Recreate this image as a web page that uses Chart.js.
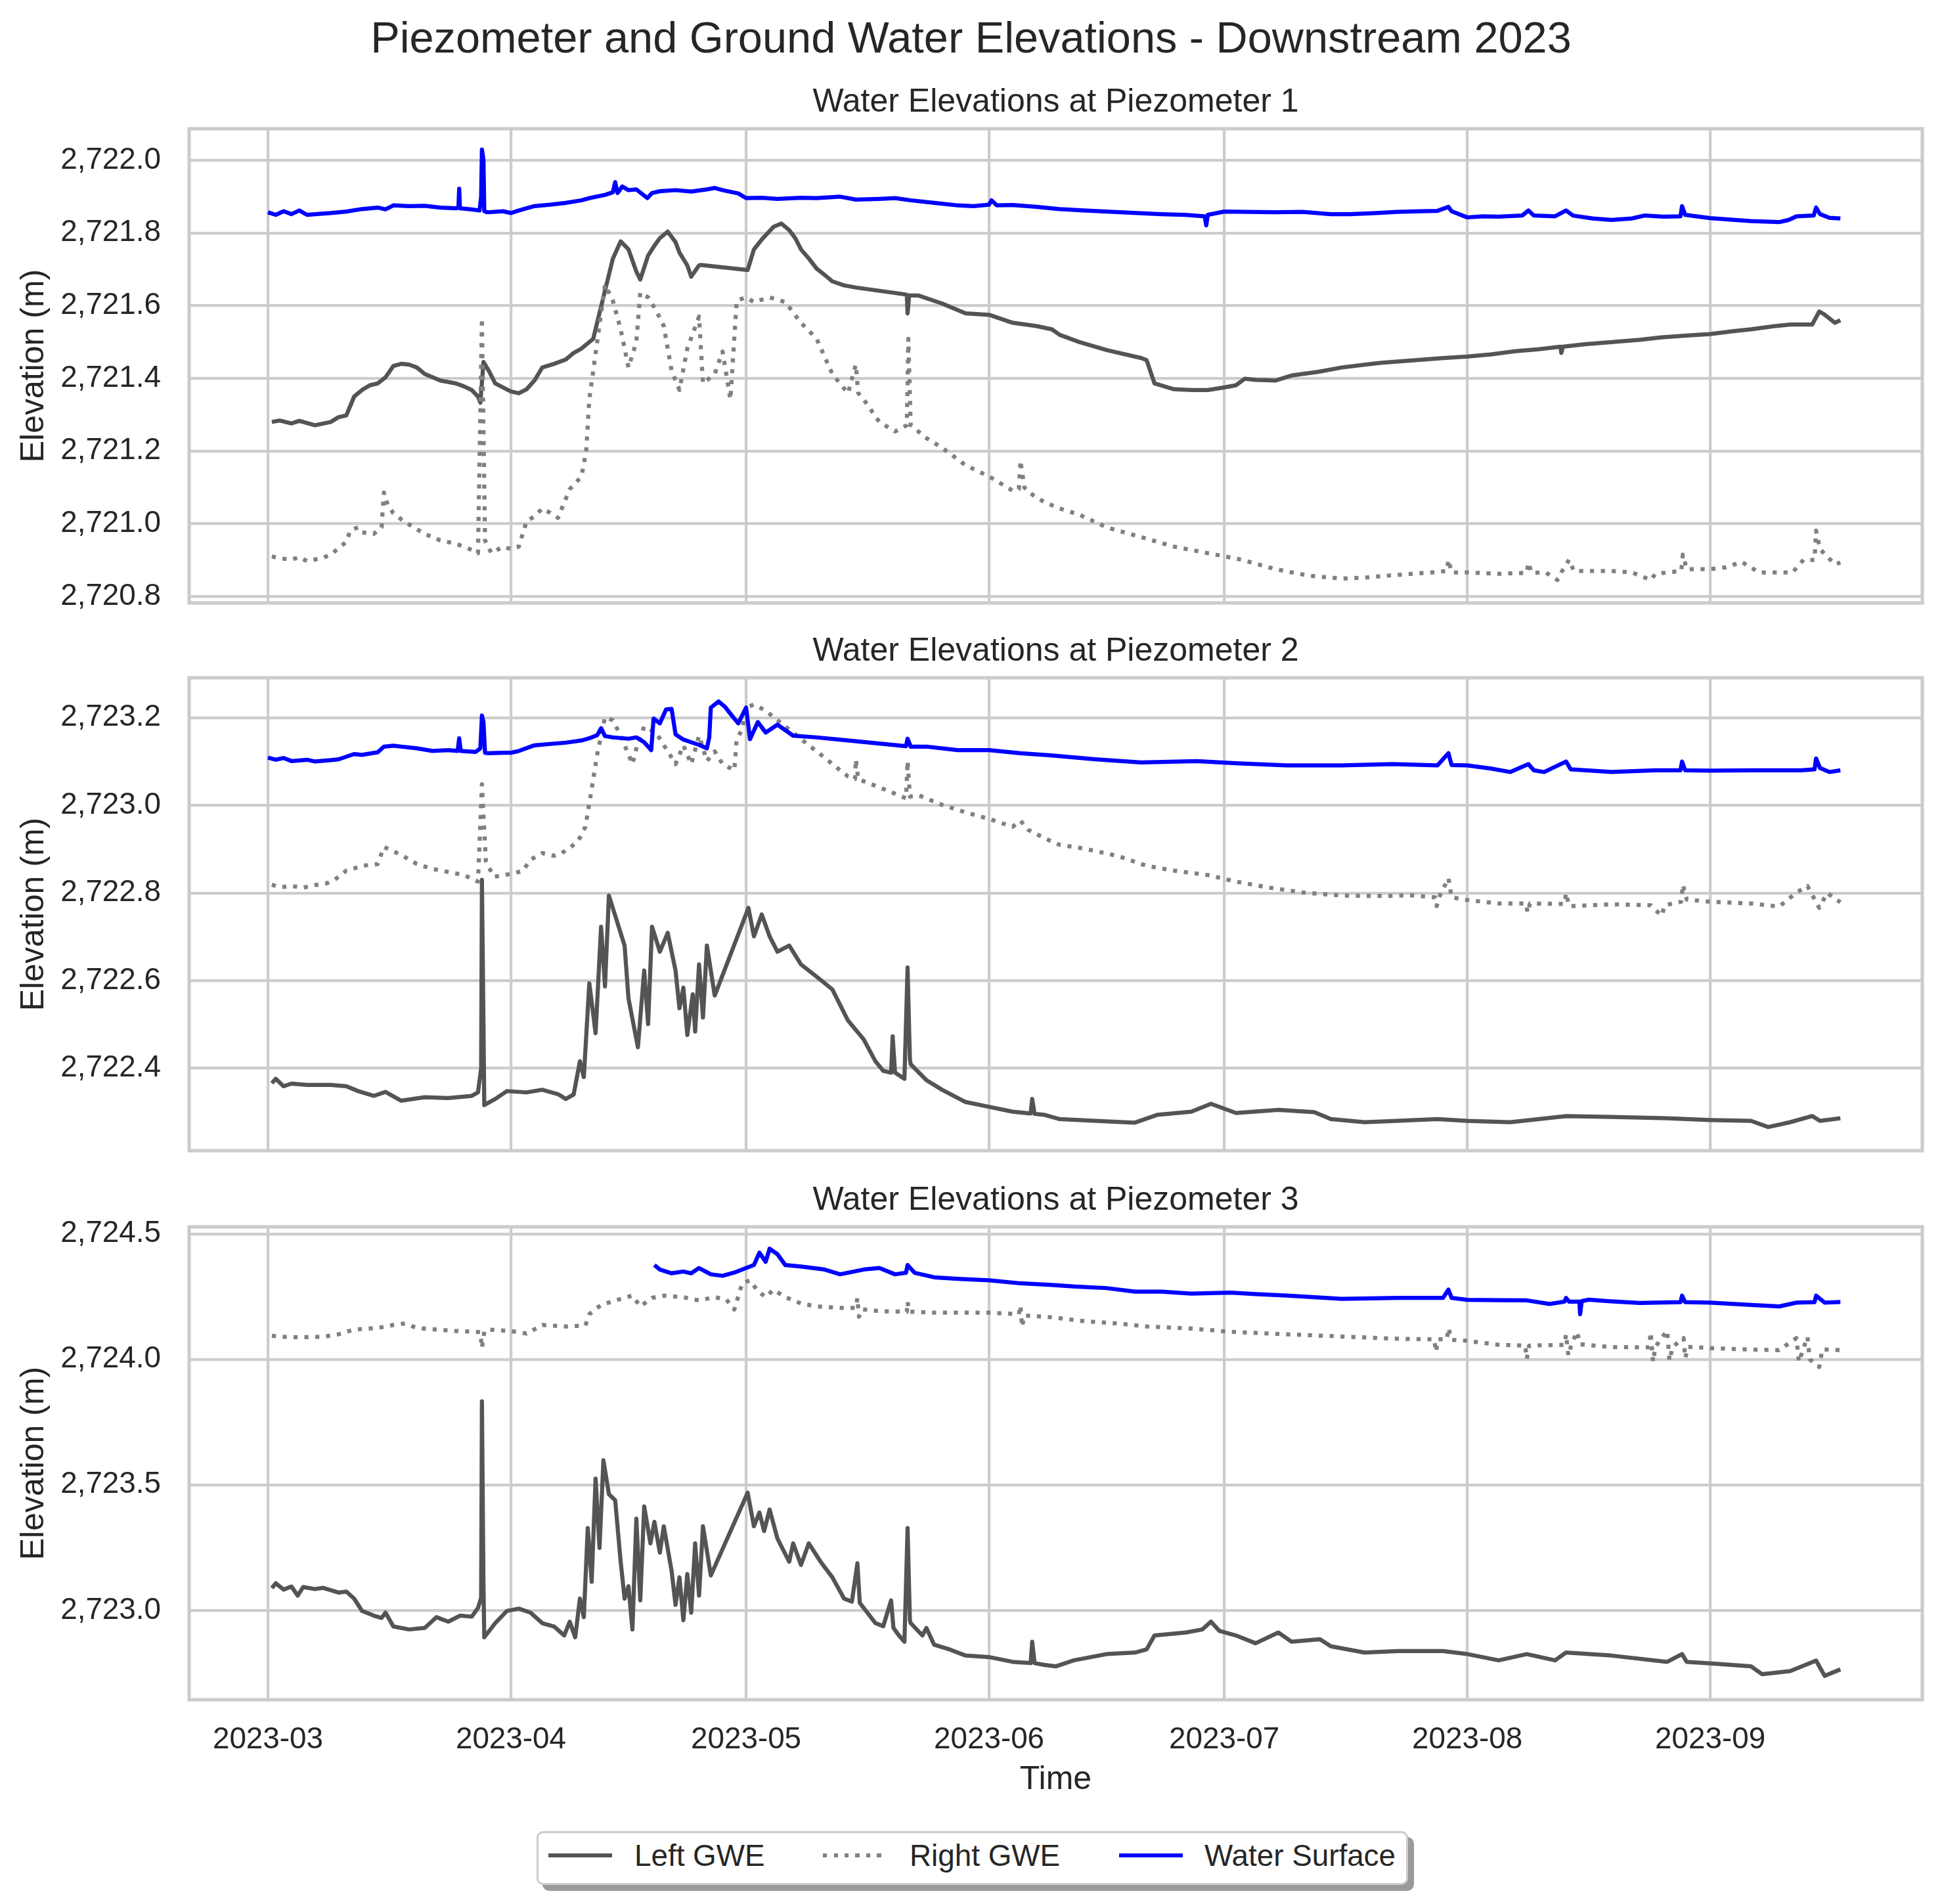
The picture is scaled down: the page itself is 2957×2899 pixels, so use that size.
<!DOCTYPE html>
<html>
<head>
<meta charset="utf-8">
<title>Piezometer and Ground Water Elevations - Downstream 2023</title>
<script src="https://cdn.jsdelivr.net/npm/chart.js@4.4.0/dist/chart.umd.min.js"></script>
<style>
    body {
        margin: 0;
        width: 2957px;
        height: 2899px;
        background: #ffffff;
        position: relative;
        font-family: "Liberation Sans", Arial, sans-serif;
        color: #262626;
        overflow: hidden;
    }
    canvas {
        position: absolute;
        left: 0;
    }
    #mainTitle {
        position: absolute;
        left: 0;
        top: 19px;
        width: 2957px;
        text-align: center;
        font-size: 66.7px;
        line-height: normal;
        white-space: nowrap;
    }
    #legendFrame {
        position: absolute;
        left: 817px;
        top: 2788px;
        width: 1321px;
        height: 76px;
        border: 3px solid #cccccc;
        border-radius: 10px;
        background: #ffffff;
        box-shadow: 9px 9px 0 #9a9a9a;
    }
    .legendLine {
        position: absolute;
        width: 97px;
        height: 6.25px;
        top: 2822px;
    }
    .legendText {
        position: absolute;
        top: 2800px;
        font-size: 45.8px;
        line-height: normal;
        white-space: nowrap;
    }
</style>
</head>
<body>
<div id="mainTitle">Piezometer and Ground Water Elevations - Downstream 2023</div>

<canvas id="chart1" width="2957" height="832" style="top:126px"></canvas>
<canvas id="chart2" width="2957" height="830" style="top:962px"></canvas>
<canvas id="chart3" width="2957" height="942" style="top:1798px"></canvas>

<div id="legendFrame"></div>
<div class="legendLine" style="left:835px; background:#545454"></div>
<div class="legendText" style="left:966px">Left GWE</div>
<div class="legendLine" style="left:1253px; background:repeating-linear-gradient(to right, #808080 0 6.25px, transparent 6.25px 16.5px)"></div>
<div class="legendText" style="left:1385px">Right GWE</div>
<div class="legendLine" style="left:1704px; background:#0000ff"></div>
<div class="legendText" style="left:1834px">Water Surface</div>

<script>
// days counted from 2023-03-01
const monthTicks = [0, 31, 61, 92, 122, 153, 184];
const monthLabels = ["2023-03", "2023-04", "2023-05", "2023-06", "2023-07", "2023-08", "2023-09"];

const yTicks1 = [2720.8, 2721.0, 2721.2, 2721.4, 2721.6, 2721.8, 2722.0];
const yTicks2 = [2722.4, 2722.6, 2722.8, 2723.0, 2723.2];
const yTicks3 = [2723.0, 2723.5, 2724.0, 2724.5];

// ---- Piezometer 1 ----
const p1Left = [
    [0.5, 2721.28], [1.5, 2721.284], [3, 2721.276], [4, 2721.283], [6, 2721.271], [8, 2721.28], [9, 2721.293],
    [10, 2721.298], [11, 2721.35], [12, 2721.368], [13, 2721.381], [14, 2721.386], [15, 2721.403], [16, 2721.434],
    [17, 2721.44], [18, 2721.438], [19, 2721.43], [20, 2721.412], [22, 2721.394], [24, 2721.386], [25, 2721.378],
    [26, 2721.368], [26.8, 2721.35], [27.1, 2721.333], [27.5, 2721.445], [28.2, 2721.42], [29, 2721.386],
    [30, 2721.375], [31, 2721.364], [32, 2721.359], [33, 2721.37], [34, 2721.394], [35, 2721.43], [36.5, 2721.44],
    [38, 2721.452], [39, 2721.47], [40, 2721.482], [41.5, 2721.509], [42.3, 2721.58], [43, 2721.641], [44, 2721.729],
    [45, 2721.777], [46, 2721.755], [47, 2721.694], [47.5, 2721.672], [48.5, 2721.738], [49.3, 2721.765],
    [50, 2721.786], [51, 2721.804], [52, 2721.775], [52.5, 2721.746], [53.5, 2721.711], [54, 2721.68], [55, 2721.711],
    [55.2, 2721.712], [61.2, 2721.698], [62, 2721.755], [63, 2721.782], [64.5, 2721.817], [65.5, 2721.826],
    [66.5, 2721.808], [67.3, 2721.785], [68, 2721.755], [69, 2721.73], [70, 2721.702], [71, 2721.685], [72, 2721.667],
    [73.5, 2721.656], [75, 2721.65], [78, 2721.641], [81, 2721.632], [81.5, 2721.63], [81.6, 2721.579], [81.8, 2721.628],
    [83, 2721.628], [86, 2721.606], [89, 2721.579], [92, 2721.575], [95, 2721.553], [98, 2721.544], [100, 2721.535],
    [101, 2721.52], [103.5, 2721.5], [107, 2721.478], [111.4, 2721.456], [112.1, 2721.45], [113.1, 2721.386],
    [115.6, 2721.37], [118, 2721.368], [119.9, 2721.368], [122, 2721.375], [123.5, 2721.381], [124.6, 2721.399],
    [126, 2721.396], [128.5, 2721.394], [130.6, 2721.408], [134, 2721.418], [137, 2721.43], [140, 2721.438],
    [142, 2721.443], [146.4, 2721.45], [150, 2721.456], [153, 2721.46], [156, 2721.466], [159.2, 2721.475],
    [162, 2721.48], [164.9, 2721.487], [165, 2721.47], [165.2, 2721.487], [168, 2721.494], [171.4, 2721.5],
    [175, 2721.506], [177.8, 2721.513], [181, 2721.518], [184, 2721.522], [187, 2721.53], [189.2, 2721.535],
    [192, 2721.543], [194.2, 2721.548], [197, 2721.548], [197.9, 2721.584], [198.4, 2721.578], [198.9, 2721.57],
    [199.9, 2721.553], [200.6, 2721.56]
];
const p1Right = [
    [0.5, 2720.91], [1.5, 2720.905], [3, 2720.901], [4, 2720.908], [5, 2720.897], [7, 2720.906], [8, 2720.915],
    [9, 2720.932], [10, 2720.95], [10.5, 2720.981], [11.5, 2720.99], [12, 2720.976], [13.5, 2720.972], [14.5, 2720.99],
    [14.8, 2721.086], [15.3, 2721.05], [16, 2721.029], [17, 2721.012], [18, 2720.998], [20, 2720.972], [22, 2720.954],
    [24, 2720.945], [26, 2720.928], [26.8, 2720.919], [27.3, 2721.566], [27.7, 2720.954], [28.5, 2720.919],
    [30, 2720.937], [31, 2720.93], [32, 2720.937], [33, 2721.007], [34, 2721.02], [35, 2721.042], [36, 2721.03],
    [37, 2721.016], [38.5, 2721.095], [40, 2721.13], [40.6, 2721.2], [41, 2721.342], [42, 2721.5], [43, 2721.658],
    [44, 2721.614], [45, 2721.535], [46, 2721.43], [47, 2721.5], [47.5, 2721.636], [48.5, 2721.623], [49.5, 2721.588],
    [50.5, 2721.544], [51.5, 2721.421], [52.5, 2721.368], [53.5, 2721.482], [55, 2721.57], [55.5, 2721.386],
    [57, 2721.412], [58, 2721.474], [59, 2721.342], [59.8, 2721.614], [61, 2721.623], [62, 2721.61], [64, 2721.623],
    [66, 2721.61], [68, 2721.553], [70, 2721.509], [72, 2721.412], [74, 2721.359], [75, 2721.438], [75.3, 2721.36],
    [76, 2721.342], [78, 2721.28], [80, 2721.254], [81.5, 2721.271], [81.7, 2721.509], [82, 2721.271], [84, 2721.236],
    [86, 2721.209], [89, 2721.161], [92, 2721.13], [95, 2721.091], [95.8, 2721.095], [96, 2721.174], [96.5, 2721.1],
    [97, 2721.087], [99, 2721.06], [101, 2721.042], [103.5, 2721.025], [107, 2720.99], [111.4, 2720.963],
    [115.6, 2720.937], [119.9, 2720.919], [124.2, 2720.901], [128.5, 2720.875], [132.8, 2720.857], [137, 2720.849],
    [140, 2720.852], [142.8, 2720.857], [146, 2720.862], [148.5, 2720.866], [150.4, 2720.87], [150.6, 2720.901],
    [151, 2720.866], [153, 2720.866], [157, 2720.862], [160.6, 2720.865], [160.8, 2720.893], [161.2, 2720.865],
    [163, 2720.866], [164.5, 2720.845], [165, 2720.866], [166, 2720.901], [166.6, 2720.87], [171.4, 2720.87],
    [174, 2720.866], [176.4, 2720.845], [177, 2720.862], [180.3, 2720.87], [180.5, 2720.915], [181, 2720.875],
    [184, 2720.875], [186, 2720.88], [188, 2720.895], [190.2, 2720.866], [192, 2720.866], [194.5, 2720.866],
    [195.9, 2720.901], [197.3, 2720.9], [197.5, 2720.981], [198, 2720.93], [198.9, 2720.91], [199.9, 2720.888],
    [200.6, 2720.893]
];
const p1Water = [
    [0, 2721.857], [1, 2721.85], [2, 2721.86], [3, 2721.852], [4, 2721.862], [5, 2721.85], [6, 2721.852],
    [8, 2721.855], [10, 2721.859], [12, 2721.866], [14, 2721.87], [15, 2721.865], [16, 2721.876], [18, 2721.874],
    [20, 2721.875], [22, 2721.87], [24, 2721.868], [24.3, 2721.87], [24.4, 2721.922], [24.5, 2721.868],
    [26, 2721.865], [27, 2721.862], [27.2, 2721.9], [27.3, 2722.03], [27.5, 2722.0], [27.6, 2721.86], [28, 2721.857],
    [30, 2721.86], [31, 2721.855], [32, 2721.862], [34, 2721.874], [36, 2721.878], [38, 2721.883], [40, 2721.89],
    [41, 2721.896], [43, 2721.905], [44, 2721.912], [44.3, 2721.94], [44.6, 2721.91], [45.2, 2721.928],
    [46, 2721.918], [47, 2721.92], [48.4, 2721.896], [49, 2721.91], [50, 2721.915], [52, 2721.918], [54, 2721.914],
    [56, 2721.92], [57, 2721.924], [58, 2721.918], [60, 2721.909], [61, 2721.896], [63, 2721.897], [65, 2721.894],
    [68, 2721.897], [70, 2721.896], [73, 2721.9], [75, 2721.892], [78, 2721.894], [80, 2721.896], [82, 2721.89],
    [85, 2721.883], [88, 2721.876], [90, 2721.874], [92, 2721.878], [92.3, 2721.89], [93, 2721.876], [95, 2721.877],
    [98, 2721.872], [101, 2721.866], [104, 2721.862], [107, 2721.859], [110, 2721.856], [114, 2721.852],
    [117, 2721.85], [119.5, 2721.846], [119.7, 2721.821], [119.9, 2721.85], [122, 2721.859], [125, 2721.858],
    [128.5, 2721.857], [132, 2721.858], [135.6, 2721.852], [138, 2721.852], [141.4, 2721.855], [144, 2721.858],
    [147, 2721.86], [149.2, 2721.861], [150.6, 2721.872], [151, 2721.86], [153, 2721.843], [155, 2721.846],
    [157, 2721.845], [160, 2721.848], [160.8, 2721.862], [161.5, 2721.848], [164.2, 2721.846], [165.6, 2721.862],
    [166.5, 2721.848], [169, 2721.84], [171.4, 2721.836], [174, 2721.84], [175.6, 2721.848], [178, 2721.845],
    [180.2, 2721.846], [180.4, 2721.874], [180.8, 2721.85], [184, 2721.841], [186, 2721.838], [189.2, 2721.833],
    [192.8, 2721.83], [194, 2721.836], [195, 2721.846], [197.2, 2721.848], [197.5, 2721.87], [198, 2721.852],
    [199.2, 2721.842], [200.6, 2721.84]
];

// ---- Piezometer 2 ----
const p2Left = [
    [0.5, 2722.366], [1, 2722.376], [2, 2722.359], [3, 2722.365], [5, 2722.362], [8, 2722.362], [10, 2722.359],
    [11.5, 2722.348], [13.5, 2722.337], [15, 2722.346], [17, 2722.326], [20, 2722.334], [23, 2722.332],
    [26, 2722.337], [26.8, 2722.345], [27.2, 2722.4], [27.3, 2722.83], [27.5, 2722.5], [27.6, 2722.316],
    [29, 2722.33], [30.5, 2722.348], [33, 2722.345], [35, 2722.351], [37, 2722.341], [38, 2722.33], [39, 2722.34],
    [39.8, 2722.416], [40.3, 2722.38], [41, 2722.594], [41.8, 2722.48], [42.5, 2722.723], [43, 2722.587],
    [43.5, 2722.794], [44.5, 2722.737], [45.5, 2722.68], [46, 2722.559], [47.2, 2722.448], [48, 2722.623],
    [48.5, 2722.501], [49, 2722.723], [50, 2722.666], [51, 2722.709], [52, 2722.623], [52.5, 2722.537],
    [53, 2722.584], [53.5, 2722.476], [54.2, 2722.569], [54.5, 2722.484], [55, 2722.637], [55.5, 2722.516],
    [56, 2722.68], [57, 2722.566], [61.3, 2722.766], [62, 2722.701], [63, 2722.751], [64, 2722.701], [65, 2722.666],
    [66.5, 2722.68], [68, 2722.637], [70, 2722.609], [72, 2722.58], [74, 2722.509], [76, 2722.466], [77.5, 2722.416],
    [78.5, 2722.394], [79.5, 2722.39], [79.7, 2722.473], [80, 2722.39], [81.2, 2722.376], [81.6, 2722.63],
    [81.9, 2722.42], [82, 2722.409], [84, 2722.373], [86, 2722.351], [89, 2722.323], [92, 2722.312], [95, 2722.301],
    [97.3, 2722.297], [97.5, 2722.33], [97.8, 2722.296], [99, 2722.294], [101, 2722.284], [105.6, 2722.28],
    [110.6, 2722.276], [113.5, 2722.294], [117.8, 2722.301], [120.3, 2722.319], [123.5, 2722.298], [128.9, 2722.305],
    [133.5, 2722.3], [135.6, 2722.284], [139.9, 2722.277], [144, 2722.28], [149.2, 2722.284], [153, 2722.28],
    [158.5, 2722.277], [165.6, 2722.291], [171.4, 2722.289], [178.5, 2722.286], [184, 2722.282], [189.2, 2722.28],
    [191.4, 2722.266], [194.2, 2722.277], [197, 2722.291], [198, 2722.28], [200.6, 2722.286]
];
const p2Right = [
    [0.5, 2722.819], [1.5, 2722.813], [3, 2722.816], [4.5, 2722.812], [6, 2722.818], [7.5, 2722.822],
    [8.5, 2722.83], [10, 2722.851], [11, 2722.856], [12, 2722.862], [14, 2722.866], [14.8, 2722.905],
    [16, 2722.895], [17, 2722.887], [19, 2722.866], [21, 2722.855], [23, 2722.848], [25, 2722.841],
    [26.8, 2722.826], [27.3, 2723.048], [27.8, 2722.873], [28.8, 2722.837], [30, 2722.84], [31, 2722.844],
    [32.5, 2722.85], [33.5, 2722.876], [35, 2722.891], [36.5, 2722.885], [37.5, 2722.891], [39.5, 2722.916],
    [40.5, 2722.951], [41.3, 2723.037], [42, 2723.116], [43, 2723.201], [44, 2723.194], [45, 2723.159],
    [46.5, 2723.094], [47, 2723.13], [48, 2723.18], [49.5, 2723.166], [51.5, 2723.109], [52, 2723.094],
    [53, 2723.137], [54, 2723.094], [55, 2723.159], [56, 2723.101], [57, 2723.123], [58, 2723.094], [59.5, 2723.08],
    [59.8, 2723.151], [60.5, 2723.173], [61, 2723.223], [62, 2723.23], [63.5, 2723.216], [65, 2723.194],
    [67, 2723.166], [69, 2723.137], [71, 2723.109], [73, 2723.08], [74, 2723.066], [74.9, 2723.06], [75, 2723.105],
    [75.3, 2723.06], [76, 2723.055], [79, 2723.034], [81.4, 2723.016], [81.6, 2723.101], [81.9, 2723.02],
    [83, 2723.023], [86, 2723.001], [89, 2722.984], [92, 2722.969], [95, 2722.951], [96, 2722.965], [97, 2722.944],
    [99.9, 2722.918], [101, 2722.91], [104.2, 2722.901], [108.5, 2722.884], [112.1, 2722.862], [115.6, 2722.851],
    [119.9, 2722.841], [123.5, 2722.826], [127.8, 2722.812], [132.1, 2722.801], [137, 2722.794], [142.8, 2722.793],
    [145.6, 2722.795], [148.9, 2722.79], [149.1, 2722.77], [149.4, 2722.79], [150.6, 2722.834], [151, 2722.79],
    [153, 2722.784], [157, 2722.776], [160.5, 2722.776], [160.7, 2722.755], [161, 2722.776], [165.4, 2722.775],
    [165.6, 2722.8], [166, 2722.77], [171.4, 2722.774], [176.4, 2722.772], [177.8, 2722.748], [178.2, 2722.772],
    [180.3, 2722.78], [180.5, 2722.819], [181, 2722.785], [184, 2722.78], [189.2, 2722.776], [192.8, 2722.769],
    [195, 2722.801], [196.4, 2722.816], [197.9, 2722.766], [198.9, 2722.8], [200.6, 2722.779]
];
const p2Water = [
    [0, 2723.109], [1, 2723.104], [2, 2723.108], [3, 2723.101], [5, 2723.104], [6, 2723.1], [8, 2723.103],
    [9, 2723.105], [11, 2723.117], [12, 2723.115], [14, 2723.121], [14.8, 2723.134], [16, 2723.136], [17, 2723.134],
    [19, 2723.13], [21, 2723.124], [23, 2723.126], [24.2, 2723.124], [24.4, 2723.153], [24.6, 2723.124],
    [26.5, 2723.122], [27.1, 2723.13], [27.3, 2723.205], [27.5, 2723.19], [27.7, 2723.12], [28, 2723.119],
    [30, 2723.12], [31, 2723.12], [32, 2723.124], [34, 2723.137], [36, 2723.14], [38, 2723.143], [40, 2723.148],
    [41, 2723.153], [42, 2723.16], [42.5, 2723.176], [43, 2723.158], [44, 2723.155], [46, 2723.152], [47, 2723.155],
    [48, 2723.144], [48.9, 2723.126], [49.2, 2723.198], [50, 2723.187], [50.8, 2723.219], [51.5, 2723.22],
    [52, 2723.162], [53, 2723.15], [54, 2723.144], [55, 2723.138], [56, 2723.13], [56.3, 2723.155], [56.5, 2723.223],
    [57.5, 2723.237], [58.3, 2723.225], [59, 2723.209], [60, 2723.187], [61, 2723.223], [61.5, 2723.151],
    [62.5, 2723.19], [63.5, 2723.166], [65, 2723.184], [67, 2723.159], [70, 2723.155], [74, 2723.148],
    [78, 2723.141], [81.4, 2723.135], [81.6, 2723.152], [82, 2723.134], [84, 2723.134], [88, 2723.126],
    [92, 2723.126], [96, 2723.119], [99.9, 2723.114], [105.6, 2723.105], [111.4, 2723.098], [118.5, 2723.101],
    [123.5, 2723.096], [130, 2723.091], [137, 2723.091], [143.5, 2723.094], [149.2, 2723.091], [150.6, 2723.119],
    [151, 2723.092], [153, 2723.091], [156, 2723.084], [158.5, 2723.076], [160.8, 2723.094], [161.5, 2723.08],
    [162.8, 2723.076], [165.6, 2723.1], [166.2, 2723.082], [171.4, 2723.076], [177, 2723.08], [180.2, 2723.08],
    [180.4, 2723.1], [180.8, 2723.08], [184, 2723.079], [189.2, 2723.08], [195.6, 2723.08], [197.3, 2723.082],
    [197.5, 2723.107], [198, 2723.085], [199.2, 2723.076], [200.6, 2723.08]
];

// ---- Piezometer 3 ----
const p3Left = [
    [0.5, 2723.089], [1, 2723.108], [2, 2723.083], [3, 2723.095], [3.8, 2723.059], [4.5, 2723.093], [6, 2723.085],
    [7, 2723.09], [9, 2723.071], [10, 2723.075], [11, 2723.047], [12, 2722.998], [13.5, 2722.979], [14.5, 2722.97],
    [15, 2722.991], [16, 2722.936], [18, 2722.924], [20, 2722.93], [21.5, 2722.973], [23, 2722.955], [24.5, 2722.979],
    [26, 2722.975], [26.8, 2723.01], [27.2, 2723.05], [27.3, 2723.833], [27.5, 2723.1], [27.6, 2722.893],
    [29, 2722.949], [30.5, 2722.998], [32, 2723.007], [33.5, 2722.991], [35, 2722.949], [36.5, 2722.936],
    [37.8, 2722.9], [38.5, 2722.955], [39.2, 2722.893], [39.8, 2723.047], [40.3, 2722.973], [40.8, 2723.328],
    [41.3, 2723.114], [41.8, 2723.525], [42.3, 2723.249], [42.8, 2723.598], [43.5, 2723.463], [44.3, 2723.439],
    [45, 2723.194], [45.5, 2723.047], [46, 2723.096], [46.5, 2722.924], [47, 2723.365], [47.5, 2723.04],
    [48, 2723.414], [48.8, 2723.267], [49.3, 2723.353], [50, 2723.23], [50.5, 2723.335], [51.5, 2723.157],
    [52, 2723.022], [52.5, 2723.132], [53, 2722.961], [53.5, 2723.145], [54, 2722.991], [54.5, 2723.267],
    [55, 2723.059], [55.5, 2723.335], [56.5, 2723.139], [61.2, 2723.469], [62, 2723.335], [62.7, 2723.39],
    [63.3, 2723.316], [64, 2723.402], [65, 2723.286], [66.5, 2723.194], [67, 2723.267], [68, 2723.181],
    [69, 2723.267], [70.5, 2723.194], [72, 2723.132], [73.5, 2723.047], [74.5, 2723.035], [75.2, 2723.188],
    [75.5, 2723.03], [76, 2723.01], [77.5, 2722.949], [78.5, 2722.937], [79.5, 2723.04], [79.8, 2722.93],
    [80.5, 2722.9], [81.2, 2722.875], [81.6, 2723.328], [81.9, 2722.96], [82, 2722.949], [83.5, 2722.9],
    [84, 2722.93], [85, 2722.863], [87, 2722.844], [89, 2722.82], [92, 2722.814], [95, 2722.795], [97.3, 2722.79],
    [97.5, 2722.875], [97.8, 2722.79], [99, 2722.783], [100.5, 2722.777], [102.8, 2722.801], [107, 2722.826],
    [110.6, 2722.832], [112.1, 2722.845], [113.1, 2722.9], [117.1, 2722.912], [119.2, 2722.924], [120.3, 2722.955],
    [121.4, 2722.918], [123.5, 2722.9], [126, 2722.869], [128.9, 2722.912], [130.6, 2722.875], [134.2, 2722.885],
    [135.6, 2722.857], [139.9, 2722.832], [144.2, 2722.838], [149.9, 2722.838], [153, 2722.826], [157, 2722.801],
    [160.6, 2722.826], [164.2, 2722.801], [165.6, 2722.832], [171.4, 2722.82], [178.5, 2722.795], [180.4, 2722.826],
    [181, 2722.795], [184, 2722.789], [189.2, 2722.777], [190.6, 2722.746], [194.2, 2722.758], [197.5, 2722.8],
    [198.6, 2722.739], [200.6, 2722.765]
];
const p3Right = [
    [0.5, 2724.094], [2, 2724.09], [4, 2724.088], [7, 2724.09], [9, 2724.1], [11, 2724.119], [14, 2724.125],
    [16, 2724.137], [17.5, 2724.143], [19, 2724.125], [21, 2724.12], [24, 2724.113], [26.5, 2724.11],
    [27.1, 2724.108], [27.3, 2724.045], [27.6, 2724.11], [28, 2724.119], [31, 2724.113], [33, 2724.103],
    [35, 2724.137], [38, 2724.131], [40.5, 2724.135], [41, 2724.18], [42.5, 2724.217], [45, 2724.241],
    [46.5, 2724.254], [47.5, 2724.211], [49, 2724.245], [50.5, 2724.254], [53, 2724.248], [55, 2724.235],
    [57, 2724.248], [58.5, 2724.238], [59.5, 2724.199], [60.5, 2724.303], [61.5, 2724.315], [62.5, 2724.272],
    [63.5, 2724.248], [64.5, 2724.278], [66, 2724.248], [68, 2724.223], [70, 2724.211], [73, 2724.205],
    [75, 2724.205], [75.2, 2724.245], [75.4, 2724.17], [75.8, 2724.2], [78, 2724.192], [81.5, 2724.19],
    [81.6, 2724.23], [81.8, 2724.19], [85, 2724.186], [88, 2724.186], [92, 2724.186], [95.8, 2724.18],
    [96, 2724.215], [96.2, 2724.13], [96.5, 2724.175], [99.9, 2724.168], [104.2, 2724.152], [108.5, 2724.143],
    [112.1, 2724.131], [117.8, 2724.123], [122.8, 2724.11], [130, 2724.1], [137, 2724.091], [144.2, 2724.082],
    [148.8, 2724.08], [149, 2724.03], [149.3, 2724.08], [150.4, 2724.08], [150.6, 2724.125], [151, 2724.078],
    [153, 2724.074], [157, 2724.058], [160.4, 2724.055], [160.6, 2724.002], [160.9, 2724.055], [165.4, 2724.058],
    [165.6, 2724.1], [165.9, 2724.015], [166.3, 2724.06], [167, 2724.11], [167.4, 2724.06], [171.4, 2724.049],
    [176.2, 2724.048], [176.4, 2724.108], [176.7, 2723.99], [177, 2724.05], [178.5, 2724.115], [178.8, 2723.995],
    [179.2, 2724.05], [180.6, 2724.085], [180.8, 2724.005], [181.2, 2724.05], [184, 2724.045], [189.2, 2724.039],
    [192.8, 2724.037], [195, 2724.085], [195.3, 2723.99], [196.4, 2724.09], [196.7, 2724.0], [197.9, 2723.97],
    [198.3, 2724.04], [200.6, 2724.037]
];
const p3Water = [
    [49.3, 2724.376], [50, 2724.358], [51.5, 2724.343], [53, 2724.35], [54, 2724.343], [55, 2724.364],
    [56.5, 2724.339], [58, 2724.333], [59.5, 2724.346], [61, 2724.364], [62, 2724.376], [62.7, 2724.425],
    [63.5, 2724.389], [64, 2724.441], [65, 2724.419], [66, 2724.376], [68, 2724.37], [71, 2724.358],
    [73, 2724.339], [76, 2724.358], [78, 2724.364], [80, 2724.339], [81.4, 2724.345], [81.6, 2724.376],
    [82.5, 2724.345], [85, 2724.327], [88, 2724.321], [92, 2724.315], [96, 2724.303], [99.9, 2724.297],
    [103, 2724.29], [107, 2724.284], [110.6, 2724.27], [114, 2724.27], [117.8, 2724.262], [122.8, 2724.266],
    [126, 2724.26], [130, 2724.254], [137, 2724.241], [144.2, 2724.245], [149.9, 2724.245], [150.6, 2724.278],
    [151, 2724.245], [153, 2724.237], [157, 2724.236], [160.6, 2724.235], [163.5, 2724.221], [165.4, 2724.23],
    [165.6, 2724.245], [166, 2724.23], [167.3, 2724.23], [167.4, 2724.18], [167.6, 2724.232], [168.5, 2724.238],
    [171, 2724.232], [175, 2724.225], [180.2, 2724.228], [180.4, 2724.254], [180.8, 2724.228], [184, 2724.226],
    [189.2, 2724.217], [192.8, 2724.211], [195, 2724.226], [197.3, 2724.228], [197.5, 2724.254], [198.6, 2724.226],
    [200.6, 2724.229]
];

const comma = (x) => {
    return x.toString().replace(/\B(?<!\.\d*)(?=(\d{3})+(?!\d))/g, ",");
};

const toXY = (arr) => arr.map((p) => ({ x: p[0], y: p[1] }));

Chart.defaults.font.family = "'Liberation Sans', Arial, sans-serif";
Chart.defaults.color = "#262626";

// grey box round each axes, like the matplotlib spines
const framePlugin = {
    id: "frame",
    afterDatasetsDraw(chart) {
        const { ctx, chartArea: a } = chart;
        ctx.save();
        ctx.strokeStyle = "#cccccc";
        ctx.lineWidth = 5.2;
        ctx.strokeRect(a.left, a.top, a.right - a.left, a.bottom - a.top);
        ctx.restore();
    },
};

function makePanel(canvasId, title, left, right, water, yMin, yMax, yTicks, showX) {
    const ctx = document.getElementById(canvasId).getContext("2d");
    return new Chart(ctx, {
        type: "line",
        data: {
            datasets: [
                {
                    label: "Left GWE",
                    data: toXY(left),
                    borderColor: "#545454",
                    borderWidth: 6.25,
                    order: 3,
                },
                {
                    label: "Right GWE",
                    data: toXY(right),
                    borderColor: "#808080",
                    borderWidth: 6.25,
                    borderDash: [6.25, 10.3],
                    order: 2,
                },
                {
                    label: "Water Surface",
                    data: toXY(water),
                    borderColor: "#0000ff",
                    borderWidth: 6.25,
                    order: 1,
                },
            ],
        },
        options: {
            responsive: false,
            animation: false,
            devicePixelRatio: 1,
            events: [],
            elements: {
                point: { radius: 0 },
                line: { tension: 0, borderJoinStyle: "round", borderCapStyle: "butt" },
            },
            // room under the top two panels so the lowest y label is not cut
            layout: { padding: { left: 0, right: 30, top: 0, bottom: showX ? 0 : 40 } },
            plugins: {
                legend: { display: false },
                tooltip: { enabled: false },
                title: {
                    display: true,
                    text: title,
                    fullSize: false,
                    color: "#262626",
                    font: { size: 50, weight: "normal", lineHeight: 1.2 },
                    padding: { top: 0, bottom: 10 },
                },
            },
            scales: {
                x: {
                    type: "linear",
                    min: -10.05,
                    max: 211.05,
                    afterBuildTicks: (scale) => {
                        scale.ticks = monthTicks.map((v) => ({ value: v }));
                    },
                    afterFit: (scale) => {
                        scale.height = showX ? 152 : 0;
                        scale.paddingLeft = 0;
                        scale.paddingRight = 0;
                    },
                    grid: { color: "#cccccc", lineWidth: 4.2, drawTicks: false },
                    border: { display: false },
                    ticks: {
                        display: showX,
                        padding: 34,
                        maxRotation: 0,
                        autoSkip: false,
                        font: { size: 45.8 },
                        color: "#262626",
                        callback: (value) => {
                            const i = monthTicks.indexOf(value);
                            return i >= 0 ? monthLabels[i] : "";
                        },
                    },
                    title: {
                        display: showX,
                        text: "Time",
                        color: "#262626",
                        font: { size: 50, lineHeight: 1.2 },
                        padding: { top: 0, bottom: 0 },
                    },
                },
                y: {
                    type: "linear",
                    min: yMin,
                    max: yMax,
                    afterBuildTicks: (scale) => {
                        scale.ticks = yTicks.map((v) => ({ value: v }));
                    },
                    afterFit: (scale) => {
                        scale.width = 288;
                        scale.paddingTop = 0;
                        scale.paddingBottom = 0;
                    },
                    grid: { color: "#cccccc", lineWidth: 4.2, drawTicks: false },
                    border: { display: false },
                    ticks: {
                        padding: 43,
                        font: { size: 45.8 },
                        color: "#262626",
                        callback: (value) => comma(Number(value).toFixed(1)),
                    },
                    title: {
                        display: true,
                        text: "Elevation (m)",
                        color: "#262626",
                        font: { size: 50, lineHeight: 1.2 },
                        padding: { top: 22, bottom: 0 },
                    },
                },
            },
        },
        plugins: [framePlugin],
    });
}

makePanel("chart1", "Water Elevations at Piezometer 1", p1Left, p1Right, p1Water, 2720.782, 2722.087, yTicks1, false);
makePanel("chart2", "Water Elevations at Piezometer 2", p2Left, p2Right, p2Water, 2722.212, 2723.291, yTicks2, false);
makePanel("chart3", "Water Elevations at Piezometer 3", p3Left, p3Right, p3Water, 2722.644, 2724.528, yTicks3, true);
</script>
</body>
</html>
